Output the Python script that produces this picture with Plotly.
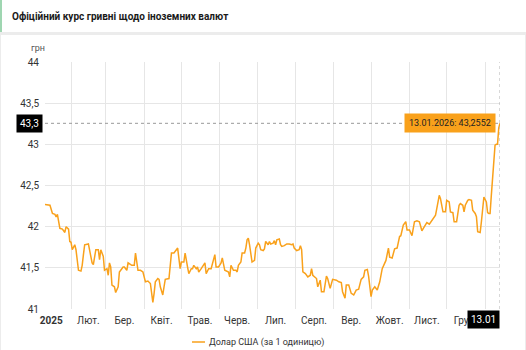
import plotly.graph_objects as go

# Official UAH/USD exchange rate, Jan 2025 - Jan 2026
dates = [
    # Jan 2025
    "2025-01-11", "2025-01-15", "2025-01-17", "2025-01-19", "2025-01-20", "2025-01-21", "2025-01-23",
    "2025-01-25", "2025-01-26", "2025-01-27", "2025-01-28", "2025-01-30", "2025-01-31",
    # Feb
    "2025-02-01", "2025-02-02", "2025-02-04", "2025-02-05", "2025-02-07", "2025-02-09", "2025-02-10",
    "2025-02-11", "2025-02-12", "2025-02-15", "2025-02-16", "2025-02-18", "2025-02-19", "2025-02-20",
    "2025-02-21", "2025-02-23", "2025-02-24", "2025-02-25", "2025-02-27", "2025-02-28",
    # Mar
    "2025-03-02", "2025-03-03", "2025-03-04", "2025-03-05", "2025-03-06", "2025-03-08", "2025-03-09",
    "2025-03-11", "2025-03-12", "2025-03-15", "2025-03-16", "2025-03-18", "2025-03-19", "2025-03-22",
    "2025-03-24", "2025-03-25", "2025-03-27", "2025-03-29", "2025-03-31",
    # Apr
    "2025-04-02", "2025-04-04", "2025-04-06", "2025-04-07", "2025-04-08", "2025-04-09", "2025-04-10",
    "2025-04-12", "2025-04-13", "2025-04-14", "2025-04-16", "2025-04-17", "2025-04-18", "2025-04-21",
    "2025-04-22", "2025-04-23", "2025-04-25", "2025-04-27", "2025-04-28", "2025-04-30",
    # May
    "2025-05-01", "2025-05-03", "2025-05-04", "2025-05-06", "2025-05-07", "2025-05-09", "2025-05-10",
    "2025-05-11", "2025-05-13", "2025-05-14", "2025-05-15", "2025-05-17", "2025-05-20", "2025-05-21",
    "2025-05-23", "2025-05-25", "2025-05-27", "2025-05-28", "2025-05-29", "2025-05-31",
    # Jun
    "2025-06-02", "2025-06-03", "2025-06-05", "2025-06-08", "2025-06-09", "2025-06-10", "2025-06-12",
    "2025-06-14", "2025-06-15", "2025-06-16", "2025-06-18", "2025-06-19", "2025-06-21", "2025-06-22",
    "2025-06-23", "2025-06-24", "2025-06-25", "2025-06-26", "2025-06-27", "2025-06-29", "2025-06-30",
    # Jul
    "2025-07-02", "2025-07-03", "2025-07-04", "2025-07-06", "2025-07-07", "2025-07-08", "2025-07-10",
    "2025-07-11", "2025-07-12", "2025-07-14", "2025-07-15", "2025-07-16", "2025-07-17", "2025-07-19",
    "2025-07-20", "2025-07-21", "2025-07-23", "2025-07-24", "2025-07-25", "2025-07-27", "2025-07-29",
    "2025-07-30", "2025-07-31",
    # Aug
    "2025-08-02", "2025-08-04", "2025-08-05", "2025-08-06", "2025-08-07", "2025-08-09", "2025-08-11",
    "2025-08-13", "2025-08-14", "2025-08-15", "2025-08-18", "2025-08-19", "2025-08-21", "2025-08-22",
    "2025-08-24", "2025-08-26", "2025-08-27", "2025-08-29", "2025-08-31",
    # Sep
    "2025-09-03", "2025-09-05", "2025-09-07", "2025-09-08", "2025-09-10", "2025-09-11", "2025-09-13",
    "2025-09-15", "2025-09-17", "2025-09-19", "2025-09-21", "2025-09-23", "2025-09-25", "2025-09-26",
    "2025-09-28", "2025-09-29",
    # Oct
    "2025-10-01", "2025-10-02", "2025-10-04", "2025-10-06", "2025-10-08", "2025-10-10", "2025-10-11",
    "2025-10-13", "2025-10-15", "2025-10-16", "2025-10-18", "2025-10-20", "2025-10-22", "2025-10-24",
    "2025-10-25", "2025-10-27", "2025-10-29", "2025-10-30",
    # Nov
    "2025-11-01", "2025-11-03", "2025-11-05", "2025-11-07", "2025-11-09", "2025-11-11", "2025-11-13",
    "2025-11-15", "2025-11-17", "2025-11-19", "2025-11-21", "2025-11-22", "2025-11-23", "2025-11-25",
    "2025-11-26", "2025-11-28", "2025-11-30",
    # Dec
    "2025-12-01", "2025-12-03", "2025-12-04", "2025-12-06", "2025-12-07", "2025-12-09", "2025-12-11",
    "2025-12-12", "2025-12-14", "2025-12-15", "2025-12-16", "2025-12-18", "2025-12-19", "2025-12-21",
    "2025-12-22", "2025-12-24", "2025-12-25", "2025-12-26", "2025-12-28", "2025-12-29", "2025-12-31",
    # Jan 2026
    "2026-01-02", "2026-01-03", "2026-01-04", "2026-01-05", "2026-01-06", "2026-01-07", "2026-01-08",
    "2026-01-09", "2026-01-10", "2026-01-11", "2026-01-12", "2026-01-13",
]

usd_rate = [
    # Jan 2025
    42.27, 42.26, 42.16, 42.15, 42.12, 42.15, 41.98,
    41.97, 41.95, 41.93, 42.00, 41.97, 41.82,
    # Feb
    41.81, 41.72, 41.78, 41.72, 41.47, 41.46, 41.53,
    41.66, 41.78, 41.79, 41.70, 41.56, 41.54, 41.64,
    41.72, 41.72, 41.60, 41.72, 41.64, 41.47,
    # Mar
    41.49, 41.41, 41.56, 41.51, 41.29, 41.27, 41.20,
    41.27, 41.45, 41.51, 41.51, 41.47, 41.56, 41.53,
    41.53, 41.68, 41.47, 41.47, 41.45,
    # Apr
    41.33, 41.34, 41.31, 41.21, 41.08, 41.19, 41.33,
    41.37, 41.36, 41.27, 41.17, 41.27, 41.36, 41.37,
    41.51, 41.68, 41.68, 41.72, 41.74, 41.49,
    # May
    41.57, 41.57, 41.68, 41.51, 41.43, 41.49, 41.49,
    41.53, 41.49, 41.51, 41.45, 41.49, 41.56, 41.43,
    41.49, 41.49, 41.59, 41.66, 41.51, 41.51,
    # Jun
    41.56, 41.62, 41.47, 41.45, 41.39, 41.53, 41.47,
    41.47, 41.45, 41.53, 41.57, 41.68, 41.68, 41.74,
    41.84, 41.86, 41.78, 41.64, 41.57, 41.59, 41.74,
    # Jul
    41.80, 41.78, 41.72, 41.71, 41.73, 41.82, 41.78,
    41.82, 41.79, 41.80, 41.83, 41.78, 41.84, 41.85,
    41.78, 41.76, 41.77, 41.78, 41.79, 41.79, 41.78,
    41.79, 41.74,
    # Aug
    41.71, 41.72, 41.77, 41.72, 41.45, 41.43, 41.39,
    41.41, 41.49, 41.41, 41.37, 41.27, 41.35, 41.21,
    41.21, 41.40, 41.37, 41.25, 41.36,
    # Sep
    41.35, 41.33, 41.32, 41.21, 41.13, 41.29, 41.29,
    41.19, 41.17, 41.23, 41.24, 41.36, 41.39, 41.47,
    41.48, 41.40,
    # Oct
    41.15, 41.23, 41.27, 41.23, 41.33, 41.49, 41.53,
    41.59, 41.74, 41.63, 41.62, 41.73, 41.74, 41.88,
    41.89, 42.02, 42.06, 41.96,
    # Nov
    41.96, 41.89, 42.06, 42.07, 42.06, 41.95, 42.00,
    42.05, 42.03, 42.08, 42.12, 42.14, 42.22, 42.38,
    42.34, 42.18, 42.18,
    # Dec
    42.32, 42.30, 42.18, 42.17, 42.06, 42.06, 42.26,
    42.28, 42.26, 42.18, 42.26, 42.32, 42.33, 42.32,
    42.20, 42.16, 42.12, 41.94, 41.93, 42.06, 42.36,
    # Jan 2026
    42.30, 42.17, 42.16, 42.16, 42.38, 42.60, 42.85,
    42.99, 43.00, 43.00, 43.20, 43.2552,
]

month_label_dates = [
    "2025-01-16", "2025-02-15", "2025-03-16", "2025-04-15", "2025-05-16", "2025-06-15",
    "2025-07-16", "2025-08-16", "2025-09-15", "2025-10-16", "2025-11-15", "2025-12-16",
]
month_labels = [
    "<b>2025</b>", "Лют.", "Бер.", "Квіт.", "Трав.", "Черв.",
    "Лип.", "Серп.", "Вер.", "Жовт.", "Лист.", "Груд.",
]
y_ticks = [41, 41.5, 42, 42.5, 43, 43.5, 44]

series_name = "Долар США (за 1 одиницю)"
title_text = "Офіційний курс гривні щодо іноземних валют"

ORANGE = "#f9a11b"
GRID = "#e6e6e6"
TEXT = "#333333"
FONT = "Roboto, Arial, sans-serif"

last_date = dates[-1]
last_val = usd_rate[-1]


def fmt_uah(v, nd):
    return f"{v:.{nd}f}".replace(".", ",")


def fmt_day(d, with_year):
    y, m, dd = d.split("-")
    return f"{dd}.{m}.{y}" if with_year else f"{dd}.{m}"


fig = go.Figure()
fig.add_trace(go.Scatter(
    x=dates, y=usd_rate, mode="lines", name=series_name,
    line=dict(color=ORANGE, width=1.5), showlegend=False,
))

# Plot area in pixels: x 45..500, y 62..309
L, R, T, B = 45, 26, 62, 41
W, H = 526, 350
pw, ph = W - L - R, H - T - B


def px_x(px):
    return (px - L) / pw


def px_y(py):
    return (H - B - py) / ph


shapes = [
    # header: green left accent and grey separator
    dict(type="rect", xref="paper", yref="paper", x0=px_x(0), x1=px_x(2), y0=px_y(32), y1=px_y(0),
         fillcolor="#9fd6b1", line=dict(width=0), layer="below"),
    dict(type="rect", xref="paper", yref="paper", x0=px_x(0), x1=px_x(526), y0=px_y(35), y1=px_y(32),
         fillcolor="#ececec", line=dict(width=0), layer="below"),
    dict(type="line", xref="paper", yref="paper", x0=px_x(0.5), x1=px_x(0.5), y0=px_y(350), y1=px_y(35),
         line=dict(color="#ececec", width=1), layer="below"),
    dict(type="line", xref="paper", yref="paper", x0=px_x(525.5), x1=px_x(525.5), y0=px_y(350), y1=px_y(35),
         line=dict(color="#ececec", width=1), layer="below"),
    # crosshair at the latest value
    dict(type="line", xref="paper", yref="y", x0=0, x1=1, y0=last_val, y1=last_val,
         line=dict(color="#9a9a9a", width=1, dash="dot")),
    dict(type="line", xref="x", yref="paper", x0=last_date, x1=last_date, y0=0, y1=1,
         line=dict(color="#b0b0b0", width=1, dash="dot")),
    # legend sample
    dict(type="line", xref="paper", yref="paper", x0=px_x(192), x1=px_x(205), y0=px_y(342), y1=px_y(342),
         line=dict(color=ORANGE, width=1.5)),
]

annotations = [
    dict(text=f"<b>{title_text}</b>", xref="paper", yref="paper", x=px_x(10), y=px_y(16),
         xanchor="left", yanchor="middle", showarrow=False, font=dict(size=10, color="#1a1a1a", family=FONT)),
    dict(text="грн", xref="paper", yref="paper", x=px_x(38), y=px_y(48),
         xanchor="center", yanchor="middle", showarrow=False, font=dict(size=9, color="#555555", family=FONT)),
    dict(text=series_name, xref="paper", yref="paper", x=px_x(207), y=px_y(342),
         xanchor="left", yanchor="middle", showarrow=False, font=dict(size=9, color=TEXT, family=FONT)),
    # value tooltip
    dict(text=f"{fmt_day(last_date, True)}: {fmt_uah(last_val, 4)}", x=last_date, y=last_val,
         xref="x", yref="y", xanchor="right", yanchor="middle", xshift=-4, showarrow=False,
         bgcolor=ORANGE, borderpad=4, font=dict(size=9, color="#222222", family=FONT)),
    # crosshair labels
    dict(text=fmt_uah(last_val, 1), xref="paper", yref="y", x=px_x(43), y=last_val,
         xanchor="right", yanchor="middle", showarrow=False, bgcolor="#000000", borderpad=3,
         font=dict(size=10, color="#ffffff", family=FONT)),
    dict(text=fmt_day(last_date, False), xref="x", yref="paper", x=last_date, y=0,
         xanchor="right", yanchor="top", yshift=-1, showarrow=False, bgcolor="#000000", borderpad=3,
         font=dict(size=10, color="#ffffff", family=FONT)),
]

fig.update_layout(
    width=W, height=H, autosize=False,
    margin=dict(l=L, r=R, t=T, b=B, pad=0),
    paper_bgcolor="white", plot_bgcolor="white",
    separators=", ",
    font=dict(family=FONT, size=10, color=TEXT),
    shapes=shapes, annotations=annotations,
    xaxis=dict(
        type="date", range=[dates[0], last_date], fixedrange=True,
        tickmode="array", tickvals=month_label_dates, ticktext=month_labels,
        showgrid=False, zeroline=False, showline=False, ticks="",
        ticklabelstandoff=4, tickfont=dict(size=10, color=TEXT),
        minor=dict(tickmode="linear", tick0="2025-02-01", dtick="M1",
                   showgrid=True, gridcolor=GRID, gridwidth=1, ticks=""),
    ),
    yaxis=dict(
        range=[41, 44], tickmode="array", tickvals=y_ticks,
        tickformat=".1~f", showgrid=True, gridcolor=GRID, gridwidth=1,
        zeroline=False, showline=False, ticks="", ticklabelstandoff=5,
        tickfont=dict(size=10, color=TEXT),
    ),
)

fig.write_html("out.html")
